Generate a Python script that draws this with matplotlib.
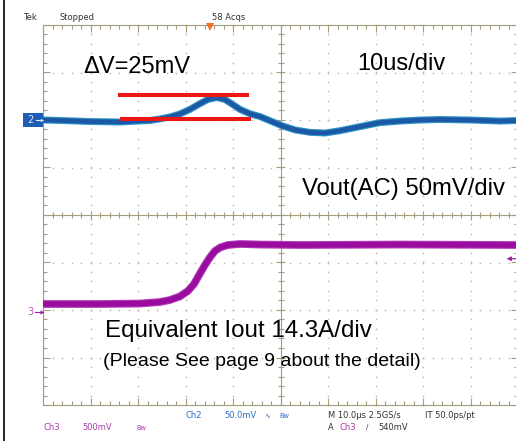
import matplotlib
matplotlib.use('Agg')
import matplotlib.pyplot as plt
import numpy as np
from matplotlib.collections import LineCollection
from matplotlib.patches import Rectangle
from matplotlib.lines import Line2D
from matplotlib import font_manager

W, H = 516, 441

# ---------------- data ----------------
time_per_div_us = 10.0
ch2_scale_mV = 50.0      # Vout(AC) 50 mV/div
ch3_scale_mV = 500.0     # Ch3 500 mV/div (equivalent Iout 14.3 A/div)
ch2_offset_div = 2.0
ch3_offset_div = -2.0

ch2_time_us = [0, 3.6, 9.9, 16.2, 22.5, 24.6, 26.7, 28.8, 30.9, 33.1, 34.7, 36.6,
               38.3, 39.8, 41.5, 43.6, 45.7, 47.8, 50.3, 53.1, 56.2, 59.4, 62.5,
               66.7, 70.9, 75.2, 79.4, 83.6, 89.9, 96.2, 100.0]
ch2_vout_mV = [0, -0.5, -1.6, -2.1, -0.5, 1.1, 3.2, 6.3, 11.1, 17.4, 21.6, 23.7,
               21.6, 16.8, 11.1, 6.5, 3.6, -0.8, -6.0, -10.5, -13.0, -13.7, -11.3,
               -7.0, -2.8, -1.1, 0.0, 0.5, 0.0, -1.1, -0.5]

ch3_time_us = [0, 12.0, 20.4, 24.6, 26.7, 28.8, 30.5, 31.8, 33.1, 34.1, 35.2,
               36.2, 37.3, 38.9, 41.5, 45.7, 54.1, 75.2, 100.0]
ch3_level_mV = [63, 63, 68, 84, 105, 142, 200, 274, 389, 474, 558,
                621, 658, 684, 695, 689, 684, 689, 684]

dv_levels_mV = [26.0, 1.5]                  # upper / lower red marker lines
dv_spans_us = [(15.8, 43.4), (16.2, 43.8)]

trigger_time_us = 35.2
trigger_level_mV = 540.0

# ---------------- figure ----------------
fig = plt.figure(figsize=(W / 100, H / 100), dpi=100)
fig.patch.set_facecolor('white')


def fx(x):
    return x / W


def fy(y):
    return 1 - y / H


ax = fig.add_axes([43 / W, (H - 405) / H, 475 / W, 380 / H])
ax.set_xlim(0, 10 * time_per_div_us)
ax.set_ylim(-4, 4)
ax.axis('off')

gc = '#a39d7e'
dotc = '#bdb9a2'
px_x = 10 * time_per_div_us / 475.0   # data units per pixel (x)
px_y = 8.0 / 380.0                    # data units per pixel (y)

# dotted grid
minor_x = np.arange(0, 100.01, 2.0)
minor_y = np.arange(-4, 4.01, 0.2)
for xv in range(10, 100, 10):
    if xv == 50:
        continue
    ax.plot(np.full_like(minor_y, xv), minor_y, ls='none', marker='s', ms=1.1,
            mew=0, color=dotc, clip_on=False, zorder=1)
for yv in [-3, -2, -1, 1, 2, 3]:
    ax.plot(minor_x, np.full_like(minor_x, yv), ls='none', marker='s', ms=1.1,
            mew=0, color=dotc, clip_on=False, zorder=1)

segs = []
# borders
segs += [[(0, -4), (0, 4)], [(0, 4), (100, 4)], [(0, -4), (100, -4)], [(100, -4), (100, 4)]]
# center cross
segs += [[(0, 0), (100, 0)], [(50, -4), (50, 4)]]
for xv in minor_x:
    major = abs(xv / 10 - round(xv / 10)) < 1e-6
    L = (7 if major else 4) * px_y
    segs.append([(xv, 4), (xv, 4 - L)])
    segs.append([(xv, -4), (xv, -4 + L)])
    h = (4.5 if major else 3) * px_y
    segs.append([(xv, -h), (xv, h)])
for yv in minor_y:
    major = abs(yv - round(yv)) < 1e-6
    L = (7 if major else 4) * px_x
    segs.append([(0, yv), (L, yv)])
    segs.append([(100, yv), (100 - L, yv)])
    w = (4.5 if major else 3) * px_x
    segs.append([(50 - w, yv), (50 + w, yv)])
ax.add_collection(LineCollection(segs, colors=gc, linewidths=0.8, zorder=2, clip_on=False))

# ---------------- traces ----------------
t2 = np.array(ch2_time_us)
y2 = np.array(ch2_vout_mV) / ch2_scale_mV + ch2_offset_div
ax.plot(t2, y2, color='#2f95c8', lw=5.0, solid_joinstyle='round', zorder=5)
ax.plot(t2, y2, color='#1b58a6', lw=3.4, solid_joinstyle='round', zorder=6)

t3 = np.array(ch3_time_us)
y3 = np.array(ch3_level_mV) / ch3_scale_mV + ch3_offset_div
ax.plot(t3, y3, color='#b23cb8', lw=5.6, solid_joinstyle='round', zorder=5)
ax.plot(t3, y3, color='#9a0c9e', lw=4.0, solid_joinstyle='round', zorder=6)

# delta-V marker lines
for lvl, (a, b) in zip(dv_levels_mV, dv_spans_us):
    yy = lvl / ch2_scale_mV + ch2_offset_div
    ax.plot([a, b], [yy, yy], color='#ee1515', lw=2.9, solid_capstyle='butt', zorder=8)

# channel ground markers
ax.add_patch(Rectangle((-20 * px_x, ch2_offset_div - 7 * px_y), 20 * px_x, 14 * px_y,
                       facecolor='#1d5db3', edgecolor='none', clip_on=False, zorder=9))
ax.text(-12.5 * px_x, ch2_offset_div, '2', color='#dfe8ff', fontsize=7,
        family='DejaVu Sans', ha='center', va='center', clip_on=False, zorder=10)
ax.plot([-7 * px_x, -1 * px_x], [ch2_offset_div] * 2, color='#dfe8ff', lw=0.8,
        clip_on=False, zorder=10)
ax.plot([-1.5 * px_x], [ch2_offset_div], marker='>', ms=2.5, color='#dfe8ff',
        mew=0, clip_on=False, zorder=10)

ax.text(-12.5 * px_x, ch3_offset_div - 2 * px_y, '3', color='#c050c0', fontsize=7,
        family='DejaVu Sans', ha='center', va='center', clip_on=False, zorder=10)
ax.plot([-8 * px_x, -1 * px_x], [ch3_offset_div - 2 * px_y] * 2, color='#a020a8',
        lw=0.8, clip_on=False, zorder=10)
ax.plot([-1.5 * px_x], [ch3_offset_div - 2 * px_y], marker='>', ms=3, color='#a020a8',
        mew=0, clip_on=False, zorder=10)

# trigger level arrow (right) and trigger position (top)
trig_y = trigger_level_mV / ch3_scale_mV + ch3_offset_div
ax.annotate('', xy=(97.6, trig_y), xytext=(100.5, trig_y), annotation_clip=False,
            arrowprops=dict(arrowstyle='-|>', color='#a020a8', lw=0.9,
                            mutation_scale=6, shrinkA=0, shrinkB=0), zorder=10)
ax.plot([trigger_time_us], [4 - 2 * px_y], marker='v', ms=5.5, color='#f07020',
        mew=0, clip_on=False, zorder=10)

# ---------------- text ----------------
names = {f.name for f in font_manager.fontManager.ttflist}
if 'Liberation Sans Narrow' in names:
    dv_font, dv_size = 'Liberation Sans Narrow', 20
else:
    dv_font, dv_size = 'Liberation Sans', 17

big = dict(family='Liberation Sans', color='black', ha='left', va='baseline')
fig.text(fx(83), fy(73), 'ΔV=25mV', fontsize=dv_size, family=dv_font,
         color='black', ha='left', va='baseline')
fig.text(fx(357), fy(70), '10us/div', fontsize=17, **big)
fig.text(fx(302), fy(195.5), 'Vout(AC) 50mV/div', fontsize=17.2, **big)
fig.text(fx(105), fy(336.5), 'Equivalent Iout 14.3A/div', fontsize=17.4, **big)
fig.text(fx(103), fy(365.5), '(Please See page 9 about the detail)', fontsize=14, **big)

small = dict(family='DejaVu Sans', fontsize=6, ha='left', va='center')
dark = '#333333'
blue = '#2b6cc4'
mag = '#a83aa8'
fig.text(fx(23), fy(18), 'Tek', color=dark, **small)
fig.text(fx(60), fy(18), 'Stopped', color=dark, **small)
fig.text(fx(212), fy(18), '58 Acqs', color=dark, **small)

fig.text(fx(186), fy(415.5), 'Ch2', color=blue, **small)
fig.text(fx(224), fy(415.5), '50.0mV', color=blue, **small)
fig.text(fx(264), fy(415.5), '∿', color=blue, family='DejaVu Sans', fontsize=5,
         ha='left', va='center')
fig.text(fx(279), fy(415.5), 'Bw', color=blue, family='DejaVu Sans', fontsize=4.8,
         ha='left', va='center')
fig.text(fx(328), fy(415.5), 'M 10.0µs 2.5GS/s', color=dark, **small)
fig.text(fx(425), fy(415.5), 'IT 50.0ps/pt', color=dark, **small)

fig.text(fx(43), fy(427.5), 'Ch3', color=mag, **small)
fig.text(fx(82), fy(427.5), '500mV', color=mag, **small)
fig.text(fx(136), fy(428), 'Bw', color=mag, family='DejaVu Sans', fontsize=4.8,
         ha='left', va='center')
fig.text(fx(328), fy(427.5), 'A', color=dark, **small)
fig.text(fx(340), fy(427.5), 'Ch3', color=mag, **small)
fig.text(fx(366), fy(427.5), '/', color=dark, family='DejaVu Sans', fontsize=5,
         ha='left', va='center')
fig.text(fx(378), fy(427.5), '540mV', color=dark, **small)

# left black frame line
fig.add_artist(Line2D([fx(4), fx(4)], [0, 1], color='black', lw=1.2,
                      transform=fig.transFigure))

fig.savefig('out.png', dpi=100, facecolor='white')
